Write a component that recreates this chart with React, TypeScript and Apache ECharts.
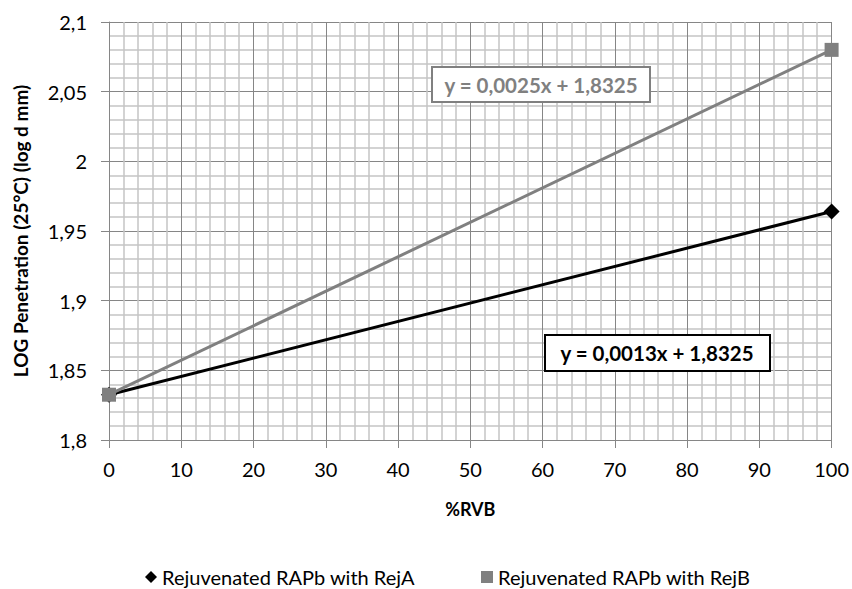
import React, { useEffect, useRef } from "react";
import * as echarts from "echarts";

const xValues = [0, 100];
const rejA = [1.8325, 1.964];
const rejB = [1.8325, 2.08];
const seriesNames = ["Rejuvenated RAPb with RejA", "Rejuvenated RAPb with RejB"];
const eqA = "y = 0,0013x + 1,8325";
const eqB = "y = 0,0025x + 1,8325";

const FONT = "Lato, 'Open Sans', sans-serif";

export default function App() {
  const ref = useRef<HTMLDivElement>(null);
  useEffect(() => {
    document.body.style.margin = "0";
    if (!ref.current) return;
    const chart = echarts.init(ref.current, undefined, { renderer: "svg" });
    chart.setOption({
      animation: false,
      backgroundColor: "#fff",
      textStyle: { fontFamily: FONT },
      grid: { left: 109, right: 20, top: 22, bottom: 149 },
      xAxis: {
        type: "value",
        min: 0,
        max: 100,
        interval: 10,
        name: "%RVB",
        nameLocation: "middle",
        nameGap: 60,
        nameMoveOverlap: false,
        nameTextStyle: { fontSize: 18, fontWeight: "bold", color: "#000", fontFamily: FONT },
        axisLine: { show: true, onZero: false, lineStyle: { color: "#868686", width: 1 } },
        axisTick: { show: true, length: 8, lineStyle: { color: "#868686" } },
        axisLabel: { fontSize: 20, color: "#000", margin: 19, fontFamily: FONT },
        splitLine: { show: true, lineStyle: { color: "#868686", width: 1 } },
        minorTick: { show: false, splitNumber: 5 },
        minorSplitLine: { show: true, lineStyle: { color: "#c4c4c4", width: 1.5 } },
      },
      yAxis: {
        type: "value",
        min: 1.8,
        max: 2.1,
        interval: 0.05,
        name: "LOG Penetration (25°C) (log d mm)",
        nameLocation: "middle",
        nameGap: 79,
        nameMoveOverlap: false,
        nameTextStyle: { fontSize: 19, fontWeight: "bold", color: "#000", fontFamily: FONT },
        axisLine: { show: true, lineStyle: { color: "#868686", width: 1 } },
        axisTick: { show: true, length: 8, lineStyle: { color: "#868686" } },
        axisLabel: {
          fontSize: 20,
          color: "#000",
          margin: 22,
          fontFamily: FONT,
          formatter: (v: number) => String(Math.round(v * 100) / 100).replace(".", ","),
        },
        splitLine: { show: true, lineStyle: { color: "#868686", width: 1 } },
        minorTick: { show: false, splitNumber: 5 },
        minorSplitLine: { show: true, lineStyle: { color: "#c4c4c4", width: 1.5 } },
      },
      legend: {
        top: 562,
        left: 140,
        itemGap: 66,
        itemWidth: 12,
        itemHeight: 12,
        itemTextGap: 6,
        textStyle: { fontSize: 20, color: "#000", fontFamily: FONT },
        data: [
          { name: seriesNames[0], icon: "diamond", itemStyle: { color: "#000" } },
          { name: seriesNames[1], icon: "rect", itemStyle: { color: "#808080" } },
        ],
      },
      series: [
        {
          name: seriesNames[1],
          type: "line",
          data: xValues.map((x, i) => [x, rejB[i]]),
          symbol: "rect",
          symbolSize: 14,
          lineStyle: { color: "#808080", width: 3 },
          itemStyle: { color: "#808080" },
          z: 3,
        },
        {
          name: seriesNames[0],
          type: "line",
          data: xValues.map((x, i) => [x, rejA[i]]),
          symbol: "diamond",
          symbolSize: 16,
          lineStyle: { color: "#000", width: 3 },
          itemStyle: { color: "#000" },
          z: 2,
        },
      ],
      graphic: [
        {
          type: "rect",
          shape: { x: 432, y: 67, width: 218, height: 35 },
          style: { fill: "#fff", stroke: "#808080", lineWidth: 2 },
          z: 10,
        },
        {
          type: "text",
          x: 541,
          y: 85,
          style: {
            text: eqB,
            fill: "#808080",
            font: `bold 20.5px ${FONT}`,
            align: "center",
            verticalAlign: "middle",
          },
          z: 11,
        },
        {
          type: "rect",
          shape: { x: 545, y: 335, width: 225, height: 36 },
          style: { fill: "#fff", stroke: "#000", lineWidth: 2 },
          z: 10,
        },
        {
          type: "text",
          x: 657,
          y: 353,
          style: {
            text: eqA,
            fill: "#000",
            font: `bold 20.5px ${FONT}`,
            align: "center",
            verticalAlign: "middle",
          },
          z: 11,
        },
      ],
    });
    return () => chart.dispose();
  }, []);
  return <div ref={ref} style={{ width: 852, height: 589 }} />;
}
